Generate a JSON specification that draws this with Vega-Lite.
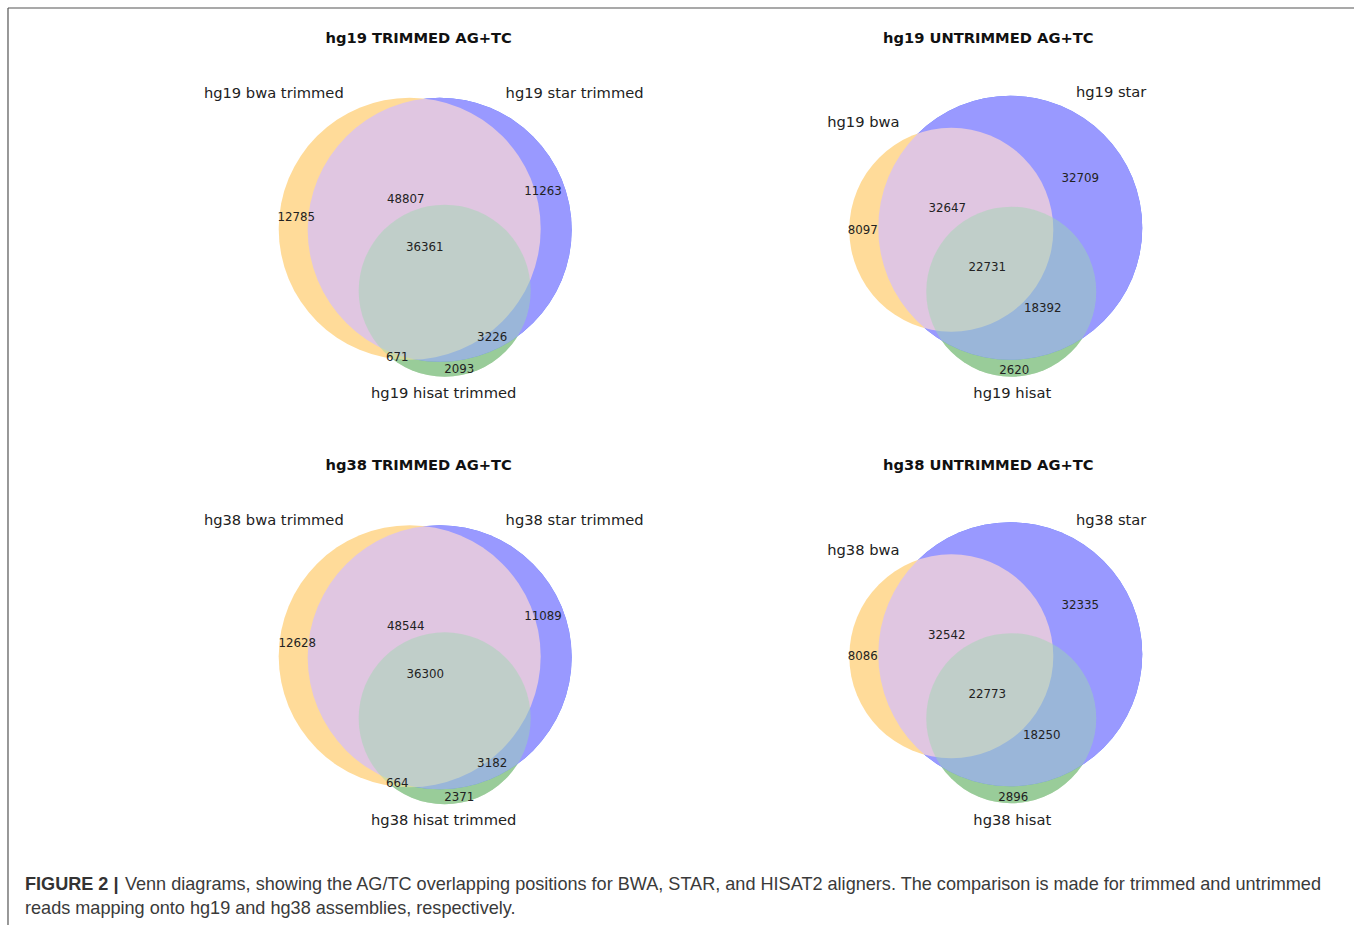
{
  "$schema": "https://vega.github.io/schema/vega-lite/v6.json",
  "width": 1355,
  "height": 926,
  "autosize": {"type": "fit", "contains": "padding"},
  "padding": 0,
  "background": "white",
  "config": {"view": {"stroke": null}},
  "datasets": {
    "circles": [
      {"panel": "hg19 trimmed", "set": "bwa", "cx": 410, "cy": 229, "r": 131},
      {"panel": "hg19 trimmed", "set": "star", "cx": 440, "cy": 230, "r": 132},
      {"panel": "hg19 trimmed", "set": "hisat", "cx": 445, "cy": 291, "r": 86},
      {"panel": "hg19 untrimmed", "set": "bwa", "cx": 952, "cy": 230, "r": 102},
      {"panel": "hg19 untrimmed", "set": "star", "cx": 1011, "cy": 228, "r": 132},
      {"panel": "hg19 untrimmed", "set": "hisat", "cx": 1012, "cy": 292, "r": 85},
      {"panel": "hg38 trimmed", "set": "bwa", "cx": 410, "cy": 657, "r": 131},
      {"panel": "hg38 trimmed", "set": "star", "cx": 440, "cy": 658, "r": 132},
      {"panel": "hg38 trimmed", "set": "hisat", "cx": 445, "cy": 719, "r": 86},
      {"panel": "hg38 untrimmed", "set": "bwa", "cx": 952, "cy": 657, "r": 102},
      {"panel": "hg38 untrimmed", "set": "star", "cx": 1011, "cy": 655, "r": 132},
      {"panel": "hg38 untrimmed", "set": "hisat", "cx": 1012, "cy": 719, "r": 85}
    ],
    "regions": [
      {"panel": "hg19 trimmed", "count": 12785, "x": 296.5, "y": 217.5},
      {"panel": "hg19 trimmed", "count": 48807, "x": 406, "y": 199.5},
      {"panel": "hg19 trimmed", "count": 11263, "x": 543.5, "y": 191},
      {"panel": "hg19 trimmed", "count": 36361, "x": 425, "y": 247},
      {"panel": "hg19 trimmed", "count": 3226, "x": 492.5, "y": 337},
      {"panel": "hg19 trimmed", "count": 671, "x": 397.5, "y": 357},
      {"panel": "hg19 trimmed", "count": 2093, "x": 459.5, "y": 369},
      {"panel": "hg19 untrimmed", "count": 8097, "x": 863.5, "y": 230.5},
      {"panel": "hg19 untrimmed", "count": 32647, "x": 948, "y": 208},
      {"panel": "hg19 untrimmed", "count": 32709, "x": 1081, "y": 178.5},
      {"panel": "hg19 untrimmed", "count": 22731, "x": 988, "y": 267},
      {"panel": "hg19 untrimmed", "count": 18392, "x": 1043.5, "y": 308.5},
      {"panel": "hg19 untrimmed", "count": 2620, "x": 1015, "y": 370.5},
      {"panel": "hg38 trimmed", "count": 12628, "x": 297.5, "y": 643.5},
      {"panel": "hg38 trimmed", "count": 48544, "x": 406, "y": 626.5},
      {"panel": "hg38 trimmed", "count": 11089, "x": 543.5, "y": 617},
      {"panel": "hg38 trimmed", "count": 36300, "x": 425.5, "y": 675},
      {"panel": "hg38 trimmed", "count": 3182, "x": 492.5, "y": 764},
      {"panel": "hg38 trimmed", "count": 664, "x": 397.5, "y": 783.5},
      {"panel": "hg38 trimmed", "count": 2371, "x": 459.5, "y": 797.5},
      {"panel": "hg38 untrimmed", "count": 8086, "x": 863.5, "y": 657},
      {"panel": "hg38 untrimmed", "count": 32542, "x": 947.5, "y": 635.5},
      {"panel": "hg38 untrimmed", "count": 32335, "x": 1081, "y": 605.5},
      {"panel": "hg38 untrimmed", "count": 22773, "x": 988, "y": 695},
      {"panel": "hg38 untrimmed", "count": 18250, "x": 1042.5, "y": 735.5},
      {"panel": "hg38 untrimmed", "count": 2896, "x": 1014, "y": 798}
    ],
    "setLabels": [
      {"panel": "hg19 trimmed", "name": "hg19 bwa trimmed", "x": 274, "y": 94.5},
      {"panel": "hg19 trimmed", "name": "hg19 star trimmed", "x": 575, "y": 94},
      {"panel": "hg19 trimmed", "name": "hg19 hisat trimmed", "x": 444, "y": 394.5},
      {"panel": "hg19 untrimmed", "name": "hg19 bwa", "x": 864, "y": 123.5},
      {"panel": "hg19 untrimmed", "name": "hg19 star", "x": 1112, "y": 93.5},
      {"panel": "hg19 untrimmed", "name": "hg19 hisat", "x": 1013, "y": 394.5},
      {"panel": "hg38 trimmed", "name": "hg38 bwa trimmed", "x": 274, "y": 522},
      {"panel": "hg38 trimmed", "name": "hg38 star trimmed", "x": 575, "y": 521.5},
      {"panel": "hg38 trimmed", "name": "hg38 hisat trimmed", "x": 444, "y": 822},
      {"panel": "hg38 untrimmed", "name": "hg38 bwa", "x": 864, "y": 551.5},
      {"panel": "hg38 untrimmed", "name": "hg38 star", "x": 1112, "y": 521.5},
      {"panel": "hg38 untrimmed", "name": "hg38 hisat", "x": 1013, "y": 822}
    ],
    "titles": [
      {"title": "hg19 TRIMMED AG+TC", "x": 419, "y": 39},
      {"title": "hg19 UNTRIMMED AG+TC", "x": 989, "y": 39},
      {"title": "hg38 TRIMMED AG+TC", "x": 419, "y": 466.5},
      {"title": "hg38 UNTRIMMED AG+TC", "x": 989, "y": 466.5}
    ],
    "caption": [
      {"part": "label", "text": "FIGURE 2 |", "x": 25, "y": 890.5},
      {"part": "body", "text": "Venn diagrams, showing the AG/TC overlapping positions for BWA, STAR, and HISAT2 aligners. The comparison is made for trimmed and untrimmed", "x": 125, "y": 890.5},
      {"part": "body", "text": "reads mapping onto hg19 and hg38 assemblies, respectively.", "x": 25, "y": 915}
    ],
    "frame": [
      {"x": 8, "y": 8, "x2": 1355, "y2": 8},
      {"x": 8, "y": 8, "x2": 8, "y2": 926}
    ]
  },
  "layer": [
    {
      "data": {"name": "frame"},
      "mark": {"type": "rule", "color": "#555555", "strokeWidth": 1.2},
      "encoding": {
        "x": {"field": "x", "type": "quantitative", "scale": {"domain": [0, 1355], "nice": false, "zero": false}, "axis": null},
        "y": {"field": "y", "type": "quantitative", "scale": {"domain": [0, 926], "nice": false, "zero": false, "reverse": true}, "axis": null},
        "x2": {"field": "x2"},
        "y2": {"field": "y2"}
      }
    },
    {
      "data": {"name": "circles"},
      "transform": [{"filter": "datum.set === 'hisat'"}],
      "mark": {"type": "circle", "fill": "#96C287", "opacity": 1, "strokeWidth": 0},
      "encoding": {
        "x": {"field": "cx", "type": "quantitative", "axis": null},
        "y": {"field": "cy", "type": "quantitative", "axis": null},
        "size": {"field": "r", "type": "quantitative", "scale": {"type": "pow", "exponent": 2, "domain": [0, 200], "range": [0, 160000]}, "legend": null}
      }
    },
    {
      "data": {"name": "circles"},
      "transform": [{"filter": "datum.set === 'star'"}],
      "mark": {"type": "circle", "fill": "#1243FF", "opacity": 1, "strokeWidth": 0},
      "encoding": {
        "x": {"field": "cx", "type": "quantitative", "axis": null},
        "y": {"field": "cy", "type": "quantitative", "axis": null},
        "size": {"field": "r", "type": "quantitative", "legend": null}
      }
    },
    {
      "data": {"name": "circles"},
      "transform": [{"filter": "datum.set === 'bwa'"}],
      "mark": {"type": "circle", "fill": "#FFDB99", "opacity": 1, "strokeWidth": 0},
      "encoding": {
        "x": {"field": "cx", "type": "quantitative", "axis": null},
        "y": {"field": "cy", "type": "quantitative", "axis": null},
        "size": {"field": "r", "type": "quantitative", "legend": null}
      }
    },
    {
      "data": {"name": "circles"},
      "transform": [{"filter": "datum.set === 'star'"}],
      "mark": {"type": "circle", "fill": "#D3BEFF", "opacity": 0.7, "strokeWidth": 0},
      "encoding": {
        "x": {"field": "cx", "type": "quantitative", "axis": null},
        "y": {"field": "cy", "type": "quantitative", "axis": null},
        "size": {"field": "r", "type": "quantitative", "legend": null}
      }
    },
    {
      "data": {"name": "circles"},
      "transform": [{"filter": "datum.set === 'hisat'"}],
      "mark": {"type": "circle", "fill": "#9CD8AE", "opacity": 0.465, "strokeWidth": 0},
      "encoding": {
        "x": {"field": "cx", "type": "quantitative", "axis": null},
        "y": {"field": "cy", "type": "quantitative", "axis": null},
        "size": {"field": "r", "type": "quantitative", "legend": null}
      }
    },
    {
      "data": {"name": "regions"},
      "mark": {"type": "text", "font": "DejaVu Sans", "fontSize": 11.8, "color": "#222222", "align": "center", "baseline": "middle"},
      "encoding": {
        "x": {"field": "x", "type": "quantitative", "axis": null},
        "y": {"field": "y", "type": "quantitative", "axis": null},
        "text": {"field": "count", "type": "quantitative", "format": "d"}
      }
    },
    {
      "data": {"name": "setLabels"},
      "mark": {"type": "text", "font": "DejaVu Sans", "fontSize": 14.7, "color": "#222222", "align": "center", "baseline": "middle"},
      "encoding": {
        "x": {"field": "x", "type": "quantitative", "axis": null},
        "y": {"field": "y", "type": "quantitative", "axis": null},
        "text": {"field": "name", "type": "nominal"}
      }
    },
    {
      "data": {"name": "titles"},
      "mark": {"type": "text", "font": "DejaVu Sans", "fontSize": 14.7, "fontWeight": "bold", "color": "#111111", "align": "center", "baseline": "middle"},
      "encoding": {
        "x": {"field": "x", "type": "quantitative", "axis": null},
        "y": {"field": "y", "type": "quantitative", "axis": null},
        "text": {"field": "title", "type": "nominal"}
      }
    },
    {
      "data": {"name": "caption"},
      "transform": [{"filter": "datum.part === 'label'"}],
      "mark": {"type": "text", "font": "Liberation Sans", "fontSize": 18.1, "fontWeight": "bold", "color": "#333333", "align": "left", "baseline": "alphabetic"},
      "encoding": {
        "x": {"field": "x", "type": "quantitative", "axis": null},
        "y": {"field": "y", "type": "quantitative", "axis": null},
        "text": {"field": "text", "type": "nominal"}
      }
    },
    {
      "data": {"name": "caption"},
      "transform": [{"filter": "datum.part === 'body'"}],
      "mark": {"type": "text", "font": "Liberation Sans", "fontSize": 18.1, "color": "#3a3a3a", "align": "left", "baseline": "alphabetic"},
      "encoding": {
        "x": {"field": "x", "type": "quantitative", "axis": null},
        "y": {"field": "y", "type": "quantitative", "axis": null},
        "text": {"field": "text", "type": "nominal"}
      }
    }
  ]
}
